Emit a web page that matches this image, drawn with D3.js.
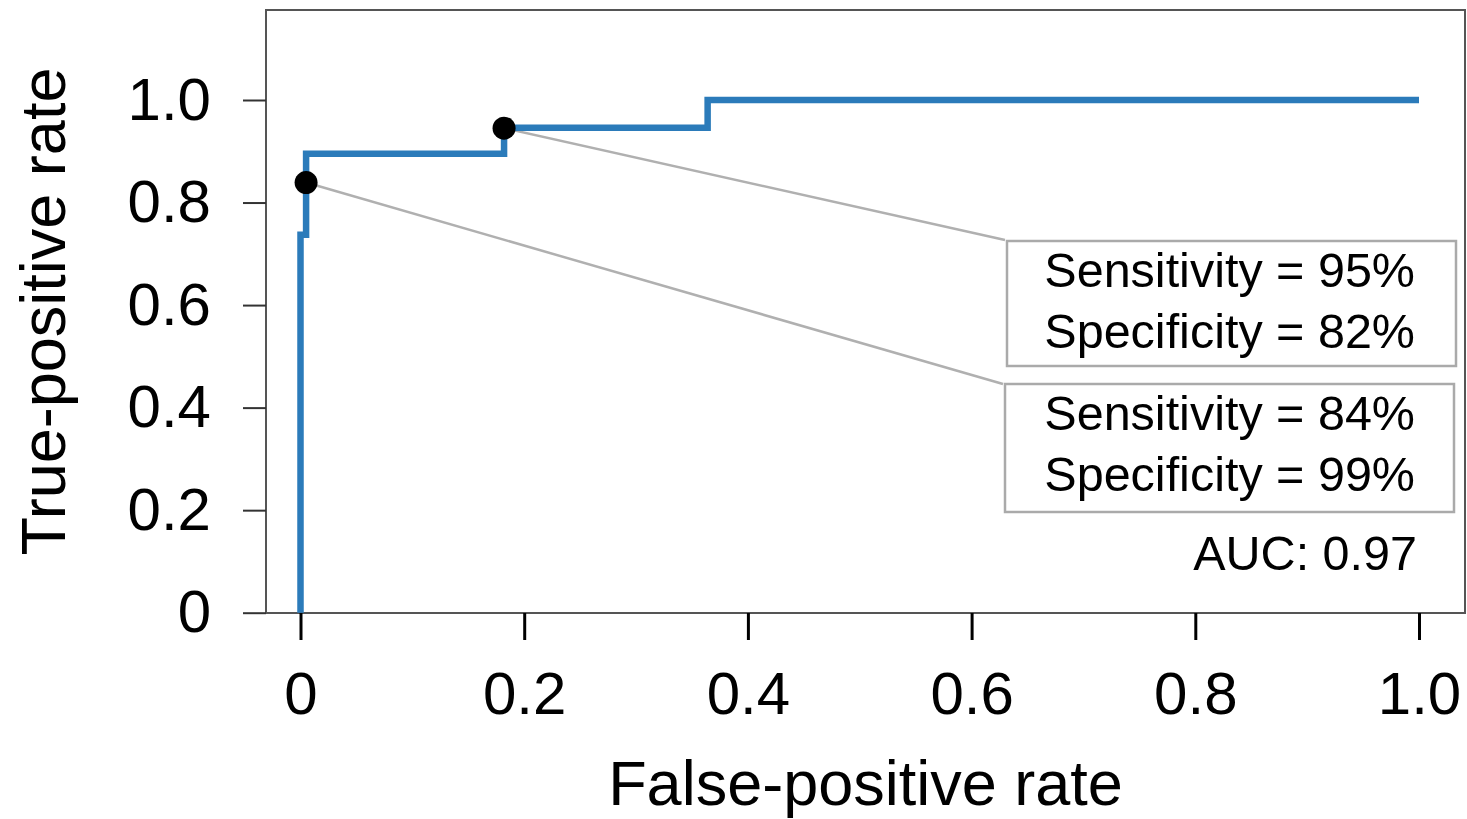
<!DOCTYPE html>
<html>
<head>
  <style>
  body { margin: 0; background: #fff; }
  #chart svg { font-family: "Liberation Sans", Arial, Helvetica, sans-serif; }
  </style>
</head>
<body>
  <script src="https://d3js.org/d3.v7.min.js"></script>
  <div id="chart"></div>
  <script>
    // ROC curve vertices (step curve)
    const fpr = [0, 0, 0.005, 0.005, 0.182, 0.182, 0.364, 0.364, 1];
    const tpr = [0, 0.737, 0.737, 0.895, 0.895, 0.946, 0.946, 1, 1];

    // highlighted operating points
    const pointFpr = [0.182, 0.005];
    const pointTpr = [0.945, 0.839];
    const sensitivity = [95, 84];
    const specificity = [82, 99];
    const auc = 0.97;

    const xTicks = [0, 0.2, 0.4, 0.6, 0.8, 1.0];
    const yTicks = [0, 0.2, 0.4, 0.6, 0.8, 1.0];
    const tickLabels = ['0', '0.2', '0.4', '0.6', '0.8', '1.0'];

    const width = 1467, height = 819;
    const svg = d3.select('#chart').append('svg')
      .attr('width', width)
      .attr('height', height);

    const x = d3.scaleLinear().domain([0, 1]).range([300.5, 1419]);
    const y = d3.scaleLinear().domain([0, 1]).range([612.7, 100]);

    // plot frame (R style box)
    const frame = {left: 266, right: 1465, top: 10, bottom: 613};
    svg.append('rect')
      .attr('x', frame.left).attr('y', frame.top)
      .attr('width', frame.right - frame.left)
      .attr('height', frame.bottom - frame.top)
      .attr('fill', 'none')
      .attr('stroke', '#555')
      .attr('stroke-width', 2);

    const fmt = d => tickLabels[xTicks.indexOf(d)];

    const yAxis = svg.append('g')
      .attr('transform', `translate(${frame.left},0)`)
      .call(d3.axisLeft(y).tickValues(yTicks).tickFormat(fmt).tickSize(23).tickPadding(32));
    yAxis.select('.domain').remove();
    yAxis.selectAll('line').attr('stroke', '#333').attr('stroke-width', 2);
    yAxis.selectAll('text').attr('font-size', 60).attr('fill', '#000')
      .attr('font-family', '"Liberation Sans", Arial, sans-serif');

    const xAxis = svg.append('g')
      .attr('transform', `translate(0,${frame.bottom})`)
      .call(d3.axisBottom(x).tickValues(xTicks).tickFormat(fmt).tickSize(27).tickPadding(31));
    xAxis.select('.domain').remove();
    xAxis.selectAll('line').attr('stroke', '#000').attr('stroke-width', 3);
    xAxis.selectAll('text').attr('font-size', 60).attr('fill', '#000')
      .attr('font-family', '"Liberation Sans", Arial, sans-serif');

    // axis titles
    svg.append('text')
      .attr('x', (frame.left + frame.right) / 2)
      .attr('y', 805)
      .attr('text-anchor', 'middle')
      .attr('font-size', 63)
      .text('False-positive rate');

    svg.append('text')
      .attr('transform', `translate(65,${(frame.top + frame.bottom) / 2}) rotate(-90)`)
      .attr('text-anchor', 'middle')
      .attr('font-size', 63)
      .text('True-positive rate');

    // annotation boxes (layout in pixels)
    const boxes = [
      {x: 1007, y: 241, w: 449, h: 125, lx: 1005, ly: 240},
      {x: 1005, y: 384, w: 449, h: 128, lx: 1003, ly: 384}
    ];

    // connector lines
    svg.append('g').selectAll('line')
      .data(boxes)
      .join('line')
      .attr('x1', (d, i) => x(pointFpr[i]))
      .attr('y1', (d, i) => y(pointTpr[i]))
      .attr('x2', d => d.lx)
      .attr('y2', d => d.ly)
      .attr('stroke', '#b0b0b0')
      .attr('stroke-width', 2.5);

    svg.append('g').selectAll('rect')
      .data(boxes)
      .join('rect')
      .attr('x', d => d.x).attr('y', d => d.y)
      .attr('width', d => d.w).attr('height', d => d.h)
      .attr('fill', '#fff')
      .attr('stroke', '#aaa')
      .attr('stroke-width', 2.5);

    const labels = svg.append('g')
      .attr('font-size', 48.5)
      .attr('text-anchor', 'end');
    boxes.forEach((b, i) => {
      labels.append('text')
        .attr('x', 1415).attr('y', b.y + 46)
        .text(`Sensitivity = ${sensitivity[i]}%`);
      labels.append('text')
        .attr('x', 1415).attr('y', b.y + 107)
        .text(`Specificity = ${specificity[i]}%`);
    });
    labels.append('text')
      .attr('x', 1417).attr('y', 570)
      .text(`AUC: ${auc.toFixed(2)}`);

    // ROC curve
    const line = d3.line()
      .x((d, i) => x(fpr[i]))
      .y((d, i) => y(tpr[i]));
    svg.append('path')
      .attr('d', line(fpr))
      .attr('fill', 'none')
      .attr('stroke', '#2b7bba')
      .attr('stroke-width', 6.5);

    // operating points
    svg.append('g').selectAll('circle')
      .data(pointFpr)
      .join('circle')
      .attr('cx', d => x(d))
      .attr('cy', (d, i) => y(pointTpr[i]))
      .attr('r', 11.5)
      .attr('fill', '#000');
  </script>
</body>
</html>
